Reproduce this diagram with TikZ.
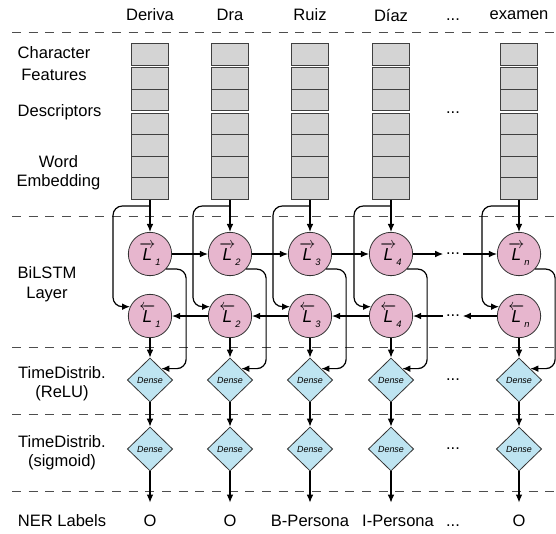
\documentclass[tikz,border=0pt]{standalone}
\usepackage{amsmath}
\usepackage{fontspec}
\setmainfont{Liberation Sans}
\usetikzlibrary{shapes.geometric,arrows.meta}

\newcommand{\fwdL}[1]{$\overrightarrow{\mbox{\itshape L}}$\raisebox{-0.6ex}{\scriptsize\itshape #1}}
\newcommand{\bwdL}[1]{$\overleftarrow{\mbox{\itshape L}}$\raisebox{-0.6ex}{\scriptsize\itshape #1}}

\begin{document}
\begin{tikzpicture}[x=0.75pt,y=0.75pt,yscale=-1,xscale=1,
  cell/.style={draw={rgb, 255:red, 64; green, 64; blue, 64 },fill={rgb, 255:red, 212; green, 212; blue, 212 },line width=0.6pt,minimum width=27.75pt,minimum height=16.1pt,inner sep=0pt},
  lstm/.style={circle,draw={rgb, 255:red, 51; green, 51; blue, 51 },fill={rgb, 255:red, 231; green, 182; blue, 206 },line width=0.6pt,minimum size=32.5pt,inner sep=0pt,font=\fontsize{13}{15}\selectfont},
  dense/.style={diamond,draw={rgb, 255:red, 51; green, 51; blue, 51 },fill={rgb, 255:red, 190; green, 228; blue, 241 },line width=0.6pt,minimum width=34pt,minimum height=33pt,inner sep=0pt,font=\fontsize{6.7}{7}\selectfont\itshape},
  txt/.style={font=\fontsize{12.4}{14}\selectfont,inner sep=0.75pt,align=center},
  divider/.style={draw={rgb, 255:red, 77; green, 77; blue, 77 },line width=0.6pt,dash pattern=on 6.75pt off 5.75pt},
  arr/.style={-{Latex[length=6pt,width=5pt]},line width=0.9pt},
  wrap/.style={arr,rounded corners=7pt}]
\useasboundingbox (0,0) rectangle (556,533);

%Dashed separators
\draw[divider] (12,32) -- (556,32);
\draw[divider] (12,216) -- (556,216);
\draw[divider] (12,347) -- (556,347);
\draw[divider] (12,414) -- (556,414);
\draw[divider] (12,491) -- (556,491);

% Text Node: words
\node[txt] (h1) at (150,15) {Deriva};
\node[txt] (h2) at (230,15) {Dra};
\node[txt] (h3) at (310,15) {Ruiz};
\node[txt] (h4) at (391,15) {Díaz};
\node[txt] (h5) at (453,20) {...};
\node[txt] (h6) at (519,15) {examen};

% Text Node: layer names
\node[txt] (lchar) at (54,64) {Character\\[2.5pt]Features};
\node[txt] (ldesc) at (59.5,112) {Descriptors};
\node[txt] (lword) at (58.5,172.5) {Word\\Embedding};
\node[txt] (lbil) at (47,284) {BiLSTM\\[1pt]Layer};
\node[txt] (lrelu) at (62,384) {TimeDistrib.\\(ReLU)};
\node[txt] (lsig) at (62,453) {TimeDistrib.\\(sigmoid)};
\node[txt] (lner) at (62,521) {NER Labels};

%Shape: Rectangle stacks
\foreach \c/\x in {1/150,2/230,3/310,4/391,n/519}{
  \foreach \r/\y in {1/54.5,2/78.5,3/100,4/124,5/145.5,6/167,7/188.5}{
    \node[cell] (c\c-\r) at (\x,\y) {};
  }
}
\node[txt] (cd) at (453,113) {...};

%Shape: Circle forward
\node[lstm] (f1) at (150,254) {\fwdL{1}};
\node[lstm] (f2) at (230,254) {\fwdL{2}};
\node[lstm] (f3) at (310,254) {\fwdL{3}};
\node[lstm] (f4) at (391,254) {\fwdL{4}};
\node[txt,inner sep=2pt] (df) at (453,254) {...};
\node[lstm] (fn) at (519,254) {\fwdL{n}};
%Shape: Circle backward
\node[lstm] (b1) at (150,316) {\bwdL{1}};
\node[lstm] (b2) at (230,316) {\bwdL{2}};
\node[lstm] (b3) at (310,316) {\bwdL{3}};
\node[lstm] (b4) at (391,316) {\bwdL{4}};
\node[txt,inner sep=2pt] (db) at (453,316) {...};
\node[lstm] (bn) at (519,316) {\bwdL{n}};

%Shape: Diamond
\node[dense] (r1) at (150,380) {Dense};
\node[dense] (r2) at (230,380) {Dense};
\node[dense] (r3) at (310,380) {Dense};
\node[dense] (r4) at (391,380) {Dense};
\node[txt] (rd) at (453,380) {...};
\node[dense] (rn) at (519,380) {Dense};
\node[dense] (g1) at (150,449) {Dense};
\node[dense] (g2) at (230,449) {Dense};
\node[dense] (g3) at (310,449) {Dense};
\node[dense] (g4) at (391,449) {Dense};
\node[txt] (gd) at (453,449) {...};
\node[dense] (gn) at (519,449) {Dense};

% Text Node: labels
\node[txt] (o1) at (150,521) {O};
\node[txt] (o2) at (230,521) {O};
\node[txt] (o3) at (310,521) {B-Persona};
\node[txt] (o4) at (398,521) {I-Persona};
\node[txt] (od) at (453,526) {...};
\node[txt] (on) at (519,521) {O};

%Branch points
\coordinate (s1) at (150,206);
\coordinate (s2) at (230,206);
\coordinate (s3) at (310,206);
\coordinate (s4) at (391,206);
\coordinate (sn) at (519,206);

%Straight Lines: inputs
\draw[arr] (c1-7) -- (f1);
\draw[arr] (c2-7) -- (f2);
\draw[arr] (c3-7) -- (f3);
\draw[arr] (c4-7) -- (f4);
\draw[arr] (cn-7) -- (fn);
\draw[wrap] (s1) -- ++(-37,0) |- (b1.155);
\draw[wrap] (s2) -- ++(-37,0) |- (b2.155);
\draw[wrap] (s3) -- ++(-37,0) |- (b3.155);
\draw[wrap] (s4) -- ++(-37,0) |- (b4.155);
\draw[wrap] (sn) -- ++(-37,0) |- (bn.155);

%Straight Lines: recurrence
\draw[arr] (f1) -- (f2);
\draw[arr] (f2) -- (f3);
\draw[arr] (f3) -- (f4);
\draw[arr] (f4) -- (df);
\draw[arr] (df) -- (fn);
\draw[arr] (b2) -- (b1);
\draw[arr] (b3) -- (b2);
\draw[arr] (b4) -- (b3);
\draw[arr] (db) -- (b4);
\draw[arr] (bn) -- (db);

%Straight Lines: outputs
\draw[wrap] (f1.-43) -- ++(20,0) |- (r1.45);
\draw[wrap] (f2.-43) -- ++(20,0) |- (r2.45);
\draw[wrap] (f3.-43) -- ++(20,0) |- (r3.45);
\draw[wrap] (f4.-43) -- ++(20,0) |- (r4.45);
\draw[wrap] (fn.-43) -- ++(20,0) |- (rn.45);
\draw[arr] (b1) -- (r1);
\draw[arr] (b2) -- (r2);
\draw[arr] (b3) -- (r3);
\draw[arr] (b4) -- (r4);
\draw[arr] (bn) -- (rn);
\draw[arr] (r1) -- (g1);
\draw[arr] (r2) -- (g2);
\draw[arr] (r3) -- (g3);
\draw[arr] (r4) -- (g4);
\draw[arr] (rn) -- (gn);
\draw[arr,shorten >=8.5pt] (g1) -- (g1 |- o1.north);
\draw[arr,shorten >=8.5pt] (g2) -- (g2 |- o2.north);
\draw[arr,shorten >=8.5pt] (g3) -- (g3 |- o3.north);
\draw[arr,shorten >=8.5pt] (g4) -- (g4 |- o4.north);
\draw[arr,shorten >=8.5pt] (gn) -- (gn |- on.north);
\end{tikzpicture}
\end{document}
